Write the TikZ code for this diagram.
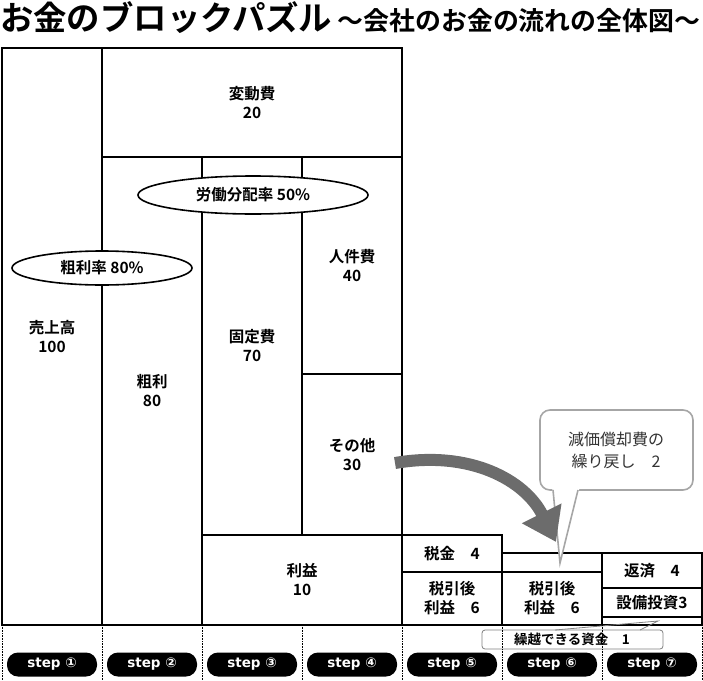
\documentclass[tikz,border=0pt]{standalone}
\usepackage{fontspec}
\usepackage{graphicx}
\setmainfont{Noto Sans CJK JP}
\newfontfamily\jpb{Noto Sans CJK JP Bold}
\newfontfamily\dv{DejaVu Sans Bold}
\usetikzlibrary{arrows.meta,shapes.geometric}
\begin{document}
\begin{tikzpicture}[x=1pt,y=-1pt,
  blk/.style={draw,line width=2pt,align=center,font=\jpb\fontsize{15.5}{19}\selectfont},
  pill/.style={fill=black,text=white,rounded corners=11pt,minimum width=90pt,minimum height=24pt,font=\dv\fontsize{13.5}{15}\selectfont},
  ell/.style={draw,ellipse,line width=1.6pt,fill=white,font=\jpb\fontsize{15.5}{17}\selectfont,inner sep=0pt},
  dot/.style={densely dotted,line width=0.6pt}]
\useasboundingbox (0,0) rectangle (703,680);
\node[anchor=west,inner sep=0pt] (title) at (0,18) {\resizebox{700pt}{!}{\jpb\fontsize{29}{32}\selectfont お金のブロックパズル\,\fontsize{22.5}{25}\selectfont ～会社のお金の流れの全体図～}};
\draw[blk] (2,48) rectangle node (uri) {売上高\\100} (102,625);
\draw[blk] (102,48) rectangle node (hen) {変動費\\20} (402,157);
\draw[blk] (102,157) rectangle node (ara) {粗利\\80} (202,625);
\draw[blk] (202,157) rectangle node (kotei) {固定費\\70} (302,535);
\draw[blk] (302,157) rectangle node (jin) {人件費\\40} (402,374);
\draw[blk] (302,374) rectangle node (sono) {その他\\30} (402,535);
\draw[blk] (202,535) rectangle node (rie) {利益\\10} (402,625);
\draw[blk] (402,535) rectangle node (zei) {税金\quad 4} (502,572);
\draw[blk] (402,572) rectangle node (zg5) {税引後\\利益\quad 6} (502,625);
\draw[blk] (502,553) rectangle node (emp) {} (602,572);
\draw[blk] (502,572) rectangle node (zg6) {税引後\\利益\quad 6} (602,625);
\draw[blk] (602,553) rectangle node (hen2) {返済\quad 4} (702,588);
\draw[blk] (602,588) rectangle node (set) {設備投資3} (702,617);
\draw[blk] (602,617) rectangle node (kur0) {} (702,625);
\node[ell,minimum width=230pt,minimum height=38pt] (rodo) at (253,195) {労働分配率 50\%};
\node[ell,minimum width=180pt,minimum height=34pt] (arar) at (102,268) {粗利率 80\%};
% callout
\coordinate (tip) at (560,563);
\draw[gray!70,line width=1.6pt,fill=white,rounded corners=10pt] (540,410) rectangle (693,490);
\fill[white] (552,486) -- (tip) -- (580,486) -- cycle;
\draw[gray!70,line width=1.6pt] (553,490) -- (tip) -- (578,490);
\node[align=center,font=\fontsize{16}{22}\selectfont,text=black!80] (gen) at (616,450) {減価償却費の\\繰り戻し\quad 2};
% carry box
\coordinate (ktip) at (658,621);
\draw[gray,line width=0.8pt,fill=white,rounded corners=3pt] (482,630) rectangle (663,649);
\draw[gray,line width=0.8pt] (555,630) -- (ktip) -- (640,630);
\node[font=\jpb\fontsize{13.5}{15}\selectfont] (kur) at (572,639.5) {繰越できる資金\quad 1};
% arrow
\coordinate (as) at (395,463);
\coordinate (ae) at (556,542);
\draw[gray!85!black,line width=12pt,-{Triangle[length=32pt,width=42pt]}] (as) .. controls (470,450) and (525,480) .. (ae);
% dotted and pills
\foreach \x in {2,102,202,302,402,502,602,702} \draw[dot] (\x,625) -- (\x,680);
\foreach \i/\s in {1/①,2/②,3/③,4/④,5/⑤,6/⑥,7/⑦}
  \node[pill] (p\i) at (\i*100-48,664.5) {step \s};
\end{tikzpicture}
\end{document}
